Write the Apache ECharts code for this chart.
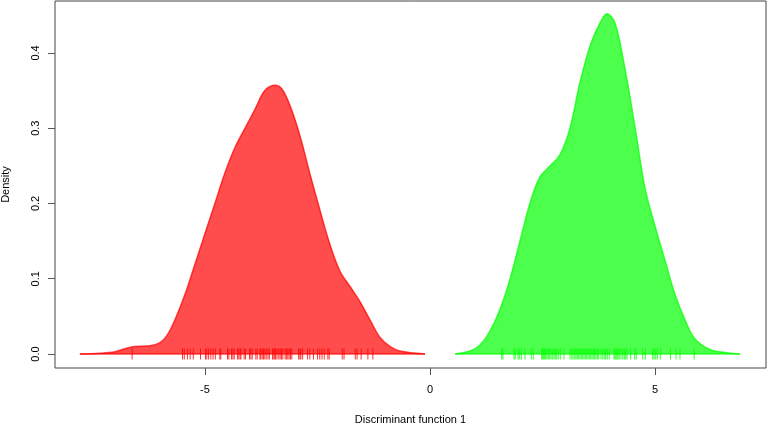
<!DOCTYPE html>
<html>
<head>
<meta charset="utf-8">
<script src="https://cdn.jsdelivr.net/npm/echarts@6/dist/echarts.min.js"></script>
<style>html,body{margin:0;padding:0;background:#fff}#c{width:767px;height:423px}</style>
</head>
<body>
<div id="c"></div>
<script>
// Density curve of group 1 (red)
const redX = [-7.78,-7.33,-7.0,-6.78,-6.56,-6.22,-6.0,-5.84,-5.67,-5.44,-5.22,-5.0,-4.78,-4.56,-4.33,-4.11,-3.89,-3.67,-3.44,-3.29,-3.11,-2.89,-2.67,-2.44,-2.22,-2.0,-1.78,-1.56,-1.33,-1.11,-0.89,-0.67,-0.11];
const redY = [0,0.001,0.003,0.007,0.010,0.011,0.015,0.025,0.045,0.08,0.12,0.16,0.20,0.24,0.275,0.30,0.325,0.35,0.357,0.352,0.33,0.29,0.24,0.19,0.145,0.11,0.09,0.07,0.045,0.022,0.01,0.004,0];
// Density curve of group 2 (green)
const greenX = [0.56,0.89,1.11,1.33,1.56,1.78,2.0,2.22,2.44,2.67,2.89,3.11,3.33,3.56,3.78,3.93,4.11,4.33,4.56,4.78,5.0,5.22,5.44,5.67,5.89,6.22,6.56,6.89];
const greenY = [0,0.004,0.012,0.03,0.06,0.10,0.15,0.20,0.235,0.25,0.265,0.30,0.36,0.41,0.44,0.452,0.44,0.38,0.30,0.22,0.17,0.125,0.08,0.045,0.02,0.006,0.002,0];
// Rug (individual observations)
const redRug = [-6.62,-5.50,-5.46,-5.39,-5.33,-5.26,-5.10,-4.99,-4.96,-4.92,-4.87,-4.82,-4.77,-4.67,-4.65,-4.50,-4.47,-4.41,-4.38,-4.35,-4.28,-4.25,-4.22,-4.20,-4.13,-4.10,-4.01,-3.98,-3.95,-3.87,-3.84,-3.78,-3.76,-3.73,-3.70,-3.67,-3.64,-3.60,-3.57,-3.50,-3.47,-3.45,-3.43,-3.40,-3.36,-3.33,-3.30,-3.27,-3.22,-3.19,-3.16,-3.13,-3.10,-3.07,-2.92,-2.89,-2.87,-2.83,-2.72,-2.67,-2.59,-2.50,-2.45,-2.40,-2.35,-2.27,-2.24,-1.95,-1.91,-1.66,-1.62,-1.53,-1.38,-1.27];
const greenRug = [1.593,1.622,1.867,1.896,1.956,1.984,2.029,2.111,2.251,2.296,2.482,2.504,2.527,2.549,2.571,2.600,2.629,2.660,2.689,2.718,2.756,2.784,2.816,2.851,2.896,2.978,3.111,3.149,3.178,3.216,3.244,3.273,3.304,3.333,3.362,3.393,3.422,3.451,3.482,3.511,3.540,3.571,3.600,3.629,3.660,3.689,3.718,3.749,3.800,3.838,3.873,3.904,3.940,3.984,4.089,4.111,4.133,4.156,4.178,4.207,4.244,4.282,4.318,4.349,4.378,4.460,4.549,4.584,4.727,4.784,4.949,4.978,5.016,5.051,5.118,5.344,5.467,5.556,5.871];
const xTicks = [-5, 0, 5];
const yTicks = [0.0, 0.1, 0.2, 0.3, 0.4];
const xTitle = 'Discriminant function 1';
const yTitle = 'Density';

const FONT = '"Liberation Sans", Arial, sans-serif';
const pairs = (xs, ys) => xs.map((x, i) => [x, ys[i]]);
const RED = 'rgba(255,0,0,0.7)';
const GREEN = 'rgba(0,255,0,0.7)';

const chart = echarts.init(document.getElementById('c'), null, {renderer: 'canvas'});
chart.setOption({
  animation: false,
  grid: {left: 55, top: 1, right: 1, bottom: 55, containLabel: false, outerBoundsMode: 'none',
         show: true, borderColor: '#444', borderWidth: 1, backgroundColor: '#fff'},
  xAxis: {
    type: 'value', min: -8.333, max: 7.467,
    splitLine: {show: false},
    axisLine: {show: false, onZero: false},
    axisTick: {show: true, length: 7, lineStyle: {color: '#555'}, customValues: xTicks},
    axisLabel: {fontFamily: FONT, fontSize: 11, color: '#000', margin: 16, customValues: xTicks, formatter: v => String(v)},
    name: xTitle, nameLocation: 'middle', nameGap: 46,
    nameTextStyle: {fontFamily: FONT, fontSize: 11, color: '#000'}
  },
  yAxis: {
    type: 'value', min: -0.0186, max: 0.469,
    splitLine: {show: false},
    axisLine: {show: false, onZero: false},
    axisTick: {show: true, length: 7, lineStyle: {color: '#555'}, customValues: yTicks},
    axisLabel: {fontFamily: FONT, fontSize: 11, color: '#000', margin: 14, rotate: 90, customValues: yTicks, formatter: v => v.toFixed(1)},
    name: yTitle, nameLocation: 'middle', nameGap: 44, nameRotate: 90,
    nameTextStyle: {fontFamily: FONT, fontSize: 11, color: '#000'}
  },
  series: [
    {type: 'line', data: pairs(redX, redY), smooth: 0.35, showSymbol: false,
     lineStyle: {color: RED, width: 1.5}, areaStyle: {color: RED, opacity: 1}, z: 2},
    {type: 'line', data: [[redX[0], 0], [redX[redX.length - 1], 0]], showSymbol: false,
     lineStyle: {color: RED, width: 1.5}, z: 2},
    {type: 'line', data: pairs(greenX, greenY), smooth: 0.35, showSymbol: false,
     lineStyle: {color: GREEN, width: 1.5}, areaStyle: {color: GREEN, opacity: 1}, z: 2},
    {type: 'line', data: [[greenX[0], 0], [greenX[greenX.length - 1], 0]], showSymbol: false,
     lineStyle: {color: GREEN, width: 1.5}, z: 2},
    {type: 'scatter', data: redRug.map(v => [v, 0]), symbol: 'rect', symbolSize: [1, 11],
     itemStyle: {color: '#ff0000'}, z: 3},
    {type: 'scatter', data: greenRug.map(v => [v, 0]), symbol: 'rect', symbolSize: [1, 11],
     itemStyle: {color: '#00ff00'}, z: 3}
  ]
});
</script>
</body>
</html>
